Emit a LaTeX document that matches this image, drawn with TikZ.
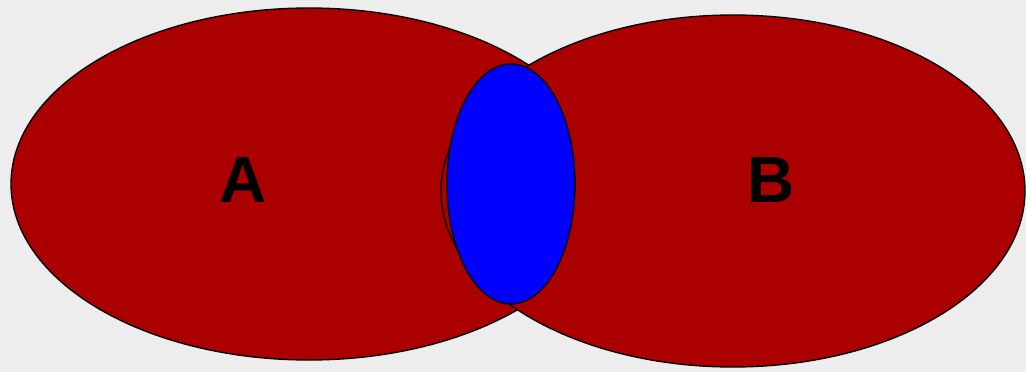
\documentclass[tikz,border=0pt]{standalone}
\usepackage{fontspec}
\setmainfont{Liberation Sans}
\usepackage{tikz}
\definecolor{setred}{HTML}{AA0000}
\definecolor{setblue}{HTML}{0000FF}
\definecolor{paper}{HTML}{EDEDED}

\begin{document}
\begin{tikzpicture}[
  x=0.75pt, y=-0.75pt,
  setfill/.style={draw=black, fill=setred, line width=1pt},
  capfill/.style={draw=black, fill=setblue, line width=1pt},
  setlabel/.style={font=\fontsize{49}{49}\selectfont\bfseries, text=black},
]
% background
\fill[paper] (0,0) rectangle (1026,372);
\useasboundingbox (0,0) rectangle (1026,372);
% the two sets
\draw[setfill] (309,184) ellipse [x radius=298, y radius=176];
\draw[setfill] (733,191) ellipse [x radius=292, y radius=176];
% intersection
\draw[capfill] (511,184) ellipse [x radius=64, y radius=120];
% labels
\node[setlabel] (lblA) at (243,180) {A};
\node[setlabel] (lblB) at (771,180) {B};
\end{tikzpicture}
\end{document}
